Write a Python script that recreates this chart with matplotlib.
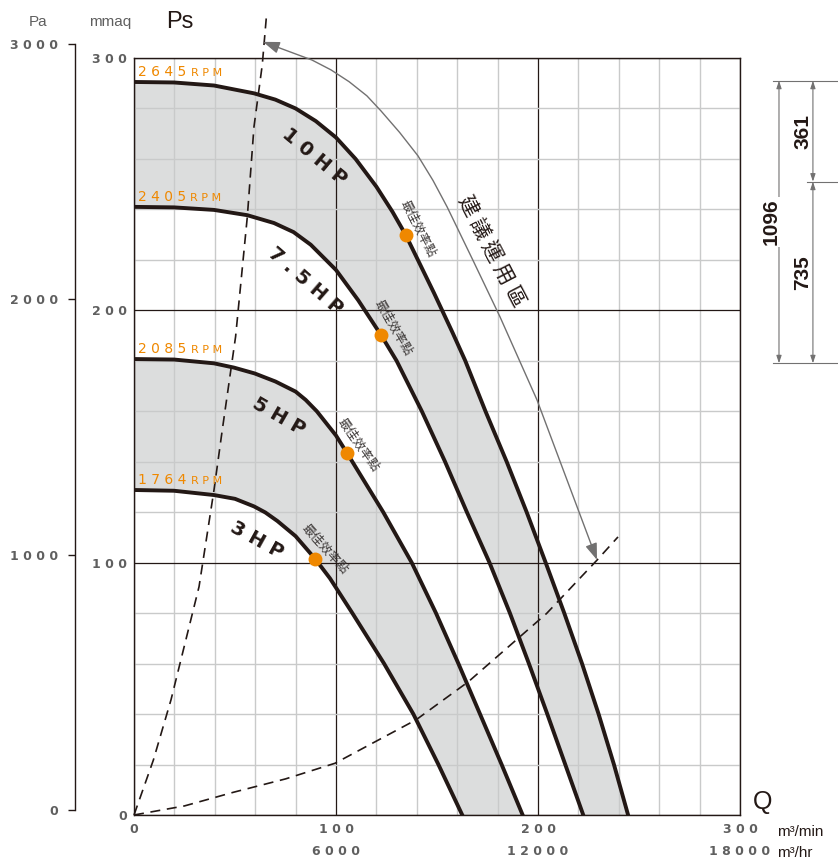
import numpy as np
import matplotlib
matplotlib.use("Agg")
import matplotlib.pyplot as plt
from matplotlib.patches import FancyArrowPatch
from matplotlib.path import Path

# fan curves: Q in m3/min, Ps in mmaq
q_10hp = [0, 19.8, 39.6, 59.4, 70, 80, 90, 100, 109.7, 120, 128, 134.5, 148.5, 157.8, 164, 174, 184.5, 194.4, 203.8, 213, 221.8, 230, 237.6, 244.6]
ps_10hp = [290.5, 290.3, 289.1, 286.0, 283.5, 280, 275, 268.5, 260, 249, 239, 229.9, 206.9, 191, 180, 160, 140, 120, 100, 80, 60, 40, 20, 0]

q_75hp = [0, 19.8, 39.6, 56.1, 69.3, 79, 87.5, 100, 111, 122.3, 130, 142.5, 154, 164.8, 176, 186.1, 195.5, 204.6, 213.5, 222.4]
ps_75hp = [241, 240.8, 239.8, 237.7, 234.6, 231, 226, 216, 204, 190.2, 180, 160, 140, 120, 100, 80, 60, 40, 20, 0]

q_5hp = [0, 19.8, 39.6, 49.5, 59.7, 70, 80, 85, 90.5, 100, 105.5, 123.4, 137.5, 149.5, 160.6, 171.3, 182, 192.4]
ps_5hp = [180.7, 180.5, 179, 177.3, 175, 171.8, 167.8, 164.5, 160, 150.4, 143.4, 120, 100, 80, 60, 40, 20, 0]

q_3hp = [0, 19.8, 39.6, 50, 59.4, 65, 71, 80, 89.6, 97, 108.1, 123.8, 138.3, 150.7, 162.5]
ps_3hp = [128.8, 128.5, 126.8, 125.3, 122.3, 119.9, 116.5, 110.5, 101.6, 93.8, 80, 60, 40, 20, 0]

hp_labels = ['10HP', '7.5HP', '5HP', '3HP']
rpm_labels = ['2645', '2405', '2085', '1764']

# best efficiency points
best_q = [134.5, 122.3, 105.5, 89.6]
best_ps = [229.9, 190.2, 143.4, 101.6]

# dashed system lines
sys_a_q = [0, 9.6, 18.3, 32.2, 39.6, 43.7, 50.3, 56.1, 59.4, 63.5, 65.5]
sys_a_ps = [0, 21.8, 45.6, 90.5, 128.8, 152.6, 189.6, 237.1, 272.8, 297.3, 316]
sys_b_q = [0, 25, 49.2, 75, 99.5, 139.6, 165.5, 204.3, 229.2, 239.6]
sys_b_ps = [0, 3.6, 9, 14.3, 20.5, 37.7, 52.8, 79.9, 101, 110.2]

# recommended operating zone arc
zone_q = [63.9, 88.1, 97.5, 106.5, 115.3, 122.3, 131.5, 140.6, 148, 155, 168, 181.2, 199.5, 229.2]
zone_ps = [306.4, 299.2, 295.3, 290.6, 285, 279, 270.5, 261.2, 251.5, 241, 219.5, 197.4, 164.5, 101.1]

q_ticks = [0, 100, 200, 300]
q_hr_ticks = [6000, 12000, 18000]
ps_ticks = [0, 100, 200, 300]
pa_ticks = [0, 1000, 2000, 3000]

dim_labels = ['1096', '361', '735']
dim_levels = [291, 251, 179]

INK = '#231815'
GRID = '#c9caca'
FILL = '#dcdddd'
ORANGE = '#ef8800'
TXT = '#5f5f5f'
ARROW = '#727171'
CJK = ['Noto Sans CJK TC', 'DejaVu Sans']


def spaced(v):
    return ' '.join(str(v))


W, H = 838, 861
fig = plt.figure(figsize=(W / 100, H / 100), dpi=100)
ax = fig.add_axes([134 / W, 46 / H, 606 / W, 757 / H])

# grid
ax.set_xticks(q_ticks)
ax.set_xticklabels([spaced(v) for v in q_ticks])
ax.set_yticks(ps_ticks)
ax.set_yticklabels([spaced(v) for v in ps_ticks])
ax.set_xticks(np.arange(0, 301, 20), minor=True)
ax.set_yticks(np.arange(0, 301, 20), minor=True)
ax.tick_params(which='both', length=0, labelsize=9, labelcolor=TXT)
ax.tick_params(axis='x', pad=6)
ax.tick_params(axis='y', pad=5)
for lab in ax.get_xticklabels() + ax.get_yticklabels():
    lab.set_fontweight('bold')
ax.set_axisbelow('line')
ax.grid(which='minor', color=GRID, lw=1.0)
ax.grid(which='major', color=INK, lw=0.9)
for s in ax.spines.values():
    s.set_color(INK)
    s.set_linewidth(1.0)

# second row of x labels in m3/hr
sec = ax.secondary_xaxis('bottom', functions=(lambda q: q * 60, lambda v: v / 60))
sec.set_xticks(q_hr_ticks)
sec.set_xticklabels([spaced(v) for v in q_hr_ticks], fontweight='bold')
sec.tick_params(length=0, pad=21.5, labelsize=9, labelcolor=TXT)
sec.spines['bottom'].set_visible(False)

# shaded bands
ax.fill(q_10hp + q_75hp[::-1], ps_10hp + ps_75hp[::-1], color=FILL, lw=0, zorder=1)
ax.fill(q_5hp + q_3hp[::-1], ps_5hp + ps_3hp[::-1], color=FILL, lw=0, zorder=1)

curves = [(q_10hp, ps_10hp), (q_75hp, ps_75hp), (q_5hp, ps_5hp), (q_3hp, ps_3hp)]
for q, ps in curves:
    ax.plot(q, ps, color=INK, lw=2.8, solid_joinstyle='round', zorder=3)

# rpm labels above the shut-off point
for (q, ps), r in zip(curves, rpm_labels):
    t = ax.annotate(spaced(r), xy=(q[0], ps[0]), xytext=(3, 4.5), textcoords='offset points',
                    color=ORANGE, fontsize=10, va='baseline')
    ax.annotate('R P M', xy=(1, 0), xycoords=t, xytext=(3, 0.8), textcoords='offset points',
                color=ORANGE, fontsize=8, va='bottom')

# HP labels along the curves
hp_pos = [(89.1, 261), (84.6, 211.6), (71.8, 157.8), (61, 109)]
hp_rot = [-40, -41, -30, -29]
for lab, (x, y), rot in zip(hp_labels, hp_pos, hp_rot):
    ax.text(x, y, spaced(lab), rotation=rot, ha='center', va='center',
            fontsize=14, fontweight='bold', color=INK, zorder=4)

# dashed system curves
ax.plot(sys_a_q, sys_a_ps, color=INK, lw=1.2, dashes=(6, 4), clip_on=False, zorder=2.5)
ax.plot(sys_b_q, sys_b_ps, color=INK, lw=1.2, dashes=(6, 4), clip_on=False, zorder=2.5)

# best efficiency points
ax.plot(best_q, best_ps, 'o', color=ORANGE, ms=10, mec='none', zorder=5)
best_rot = [-63, -60, -55, -48]
for q, ps, rot in zip(best_q, best_ps, best_rot):
    d = 10
    off = (d * np.sin(np.radians(-rot)), d * np.cos(np.radians(rot)))
    ax.annotate('最佳效率點', xy=(q, ps), xytext=off, textcoords='offset points',
                rotation=rot, ha='center', va='center', fontsize=9,
                color='#3e3a39', family=CJK, zorder=5)

# recommended zone
arc = FancyArrowPatch(path=Path(list(zip(zone_q, zone_ps))),
                      arrowstyle='<|-|>,head_length=0.5,head_width=0.18',
                      mutation_scale=20, color=ARROW, lw=1.0, joinstyle='round',
                      transform=ax.transData, clip_on=False, zorder=4)
ax.add_patch(arc)
ax.text(176.9, 223.4, '建 議 運 用 區', rotation=-62.5, ha='center', va='center',
        fontsize=15, color=INK, family=CJK, zorder=4)

# dimension marks on the right
top, mid, bot = dim_levels
for y, x0 in [(top, 316.3), (mid, 333.2), (bot, 316.3)]:
    ax.plot([x0, 348.5], [y, y], color=ARROW, lw=0.8, clip_on=False)
dim_arrow = dict(arrowstyle='<|-|>,head_length=0.45,head_width=0.15', color=ARROW,
                 lw=0.8, shrinkA=0, shrinkB=0)
ax.annotate('', xy=(319.3, top), xytext=(319.3, bot), arrowprops=dim_arrow, annotation_clip=False)
ax.annotate('', xy=(336.1, top), xytext=(336.1, mid), arrowprops=dim_arrow, annotation_clip=False)
ax.annotate('', xy=(336.1, mid), xytext=(336.1, bot), arrowprops=dim_arrow, annotation_clip=False)
ax.text(315.3, (top + bot) / 2, dim_labels[0], rotation=90, ha='center', va='center',
        fontsize=15, fontweight='bold', family='Liberation Sans', color=INK, clip_on=False,
        bbox=dict(fc='white', ec='none', pad=1))
ax.text(331.2, (top + mid) / 2, dim_labels[1], rotation=90, ha='center', va='center',
        fontsize=15, fontweight='bold', family='Liberation Sans', color=INK, clip_on=False)
ax.text(331.2, (mid + bot) / 2, dim_labels[2], rotation=90, ha='center', va='center',
        fontsize=15, fontweight='bold', family='Liberation Sans', color=INK, clip_on=False)

# units
ax.annotate('Q', xy=(1, 0), xycoords='axes fraction', xytext=(16, 9.5), textcoords='offset points',
            ha='center', va='center', fontsize=18, family='Liberation Sans', color=INK)
ax.annotate('m³/min', xy=(1, 0), xycoords='axes fraction', xytext=(27, -12.3),
            textcoords='offset points', ha='left', va='center', fontsize=11,
            family='Liberation Sans', color=INK)
ax.annotate('m³/hr', xy=(1, 0), xycoords='axes fraction', xytext=(27, -27.5),
            textcoords='offset points', ha='left', va='center', fontsize=11,
            family='Liberation Sans', color=INK)

ax.set_xlim(0, 300)
ax.set_ylim(0, 300)

# Pa axis on the far left
pax = fig.add_axes([75 / W, 51 / H, 0.0005, 766 / H])
pax.set_ylim(0, 3000)
pax.set_yticks(pa_ticks)
pax.set_yticklabels([spaced(v) for v in pa_ticks], fontweight='bold')
pax.set_xticks([])
pax.patch.set_visible(False)
for k in ['top', 'right', 'bottom']:
    pax.spines[k].set_visible(False)
pax.spines['left'].set_color(INK)
pax.spines['left'].set_linewidth(1.0)
pax.tick_params(axis='y', length=5, width=1.0, color=INK, pad=7, labelsize=9, labelcolor=TXT)

fig.text(38 / W, 1 - 22 / H, 'Pa', ha='center', va='center', fontsize=11,
         family='Liberation Sans', color=TXT)
fig.text(110 / W, 1 - 22 / H, 'mmaq', ha='center', va='center', fontsize=11,
         family='Liberation Sans', color=TXT)
fig.text(180 / W, 1 - 22 / H, 'Ps', ha='center', va='center', fontsize=17,
         family='Liberation Sans', color=INK)

fig.savefig('out.png', dpi=100)
